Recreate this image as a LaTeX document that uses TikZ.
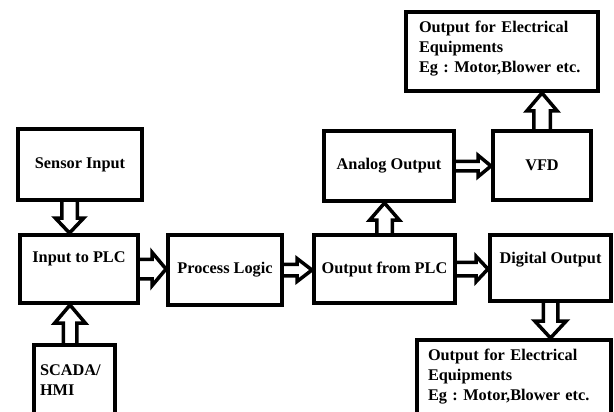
\documentclass[tikz,border=0pt]{standalone}
\usepackage{fontspec}
\setmainfont{Liberation Serif}
\usetikzlibrary{calc}

\tikzset{
  box/.style={draw, line width=4pt, inner sep=4pt,
    font=\fontsize{16.3}{20}\selectfont\bfseries\frenchspacing},
  % hollow block arrow: shaft half width, head half width, head length
  blk/.style n args={3}{draw, line width=3.5pt, line join=miter,
    to path={let \p1=(\tikztostart), \p2=(\tikztotarget),
      \p3=($(\p2)!#3!(\p1)$) in
      ($(\p1)!#1!90:(\p2)$) -- ($(\p3)!#1!90:(\p2)$) -- ($(\p3)!#2!90:(\p2)$)
      -- (\p2) -- ($(\p3)!#2!-90:(\p2)$) -- ($(\p3)!#1!-90:(\p2)$)
      -- ($(\p1)!#1!-90:(\p2)$)}}
}

\begin{document}
\begin{tikzpicture}[x=1pt, y=-1pt]

    % Page size of the original picture
    \path[use as bounding box] (0,0) rectangle (614,412);
    \clip (0,0) rectangle (614,412);

    % Input side
    \node[box, minimum width=124pt, minimum height=71pt] (sensor) at (80,164.5) {Sensor Input};
    \node[box, minimum width=118pt, text height=23pt, text depth=37pt] (plcin) at (79,269) {Input to PLC};
    \node[box, text width=69pt, inner xsep=6pt, align=left, text height=26pt, text depth=46pt] (scada) at (74.5,385) {SCADA/\\HMI};

    % PLC
    \node[box, minimum width=114pt, minimum height=70pt] (proc) at (225,270) {Process Logic};
    \node[box, minimum width=141pt, minimum height=68pt] (plcout) at (384.5,269) {Output from PLC};

    % Output side
    \node[box, minimum width=130pt, minimum height=70pt] (analog) at (389,166) {Analog Output};
    \node[box, minimum width=98pt, minimum height=69pt] (vfd) at (542,165.5) {VFD};
    \node[box, minimum width=121pt, text height=24pt, text depth=34pt] (digital) at (550.5,268) {Digital Output};
    \node[box, text width=166pt, inner xsep=13pt, align=left, text height=17pt, text depth=54pt] (equipA) at (502,51.5)
        {Output for Electrical\\Equipments\\Eg : Motor,Blower etc.};
    \node[box, text width=172pt, inner xsep=11pt, align=left, text height=16pt, text depth=66pt] (equipB) at (514,385)
        {Output for Electrical\\Equipments\\Eg : Motor,Blower etc.};

    % Block arrows between the boxes
    \coordinate (s0) at ([xshift=-10.5pt]sensor.south);
    \coordinate (h0) at ([xshift=-4.5pt]scada.north);
    \draw[blk={7.75pt}{14.25pt}{15pt}] (s0) to (s0 |- plcin.north);
    \draw[blk={6.75pt}{15.25pt}{18pt}] (h0) to (h0 |- plcin.south);
    \draw[blk={9.75pt}{16.75pt}{14pt}] (plcin.east) to (plcin.east -| proc.west);
    \draw[blk={5.75pt}{11.5pt}{15pt}] (proc.east) to (proc.east -| plcout.west);
    \draw[blk={7.75pt}{14.75pt}{17pt}] (plcout.north) to (plcout.north |- analog.south);
    \draw[blk={4.75pt}{10.75pt}{13pt}] (analog.east) to (analog.east -| vfd.west);
    \draw[blk={8.25pt}{15.25pt}{18pt}] (vfd.north) to (vfd.north |- equipA.south);
    \draw[blk={6.75pt}{12.75pt}{12pt}] (plcout.east) to (plcout.east -| digital.west);
    \draw[blk={7.25pt}{15.75pt}{17pt}] (digital.south) to (digital.south |- equipB.north);

\end{tikzpicture}
\end{document}
